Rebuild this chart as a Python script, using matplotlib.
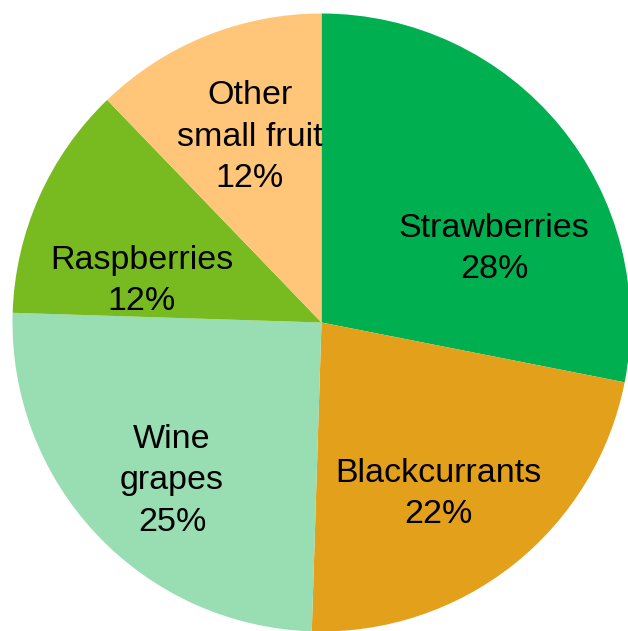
import matplotlib
matplotlib.use("Agg")
import matplotlib.pyplot as plt

categories = ["Strawberries", "Blackcurrants", "Wine grapes", "Raspberries", "Other small fruit"]
values = [28.1, 22.4, 25.0, 12.3, 12.2]
label_texts = ["Strawberries", "Blackcurrants", "Wine\ngrapes", "Raspberries", "Other\nsmall fruit"]
colors = ["#00B050", "#E3A01B", "#99DDB3", "#77BB21", "#FFC679"]

# label centres in pixel coordinates of the figure (layout only)
label_px = [(494, 249), (438, 494), (172, 481), (142, 281), (250, 137)]

W, H = 628, 631
cx, cy, R = 321.5, 322.5, 309.0

fig = plt.figure(figsize=(W / 100, H / 100), dpi=100)
ax = fig.add_axes([0, 0, 1, 1])
ax.pie(values, colors=colors, startangle=90, counterclock=False, radius=1.0,
       wedgeprops=dict(linewidth=0))
ax.set_xlim(-cx / R, (W - cx) / R)
ax.set_ylim(-(H - cy) / R, cy / R)
ax.set_aspect("auto")
ax.axis("off")

total = sum(values)
for txt, v, (px, py) in zip(label_texts, values, label_px):
    x = (px - cx) / R
    y = (cy - py) / R
    ax.text(x, y, f"{txt}\n{v / total * 100:.0f}%", ha="center", va="center",
            fontsize=24.5, family=["Liberation Sans", "DejaVu Sans"],
            linespacing=1.42, color="black")

fig.savefig("out.png", dpi=100)
